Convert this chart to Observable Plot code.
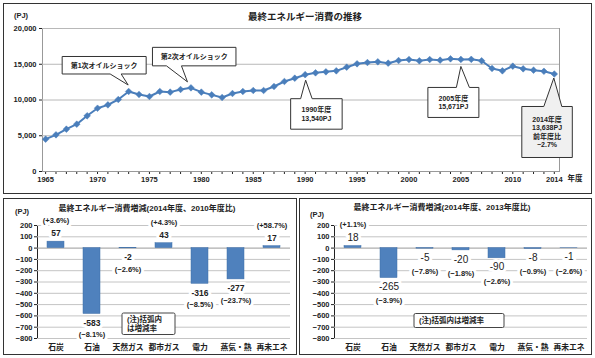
<!DOCTYPE html>
<html><head><meta charset="utf-8">
<script src="https://cdn.jsdelivr.net/npm/d3@7"></script>
<script src="https://cdn.jsdelivr.net/npm/@observablehq/plot@0.6"></script>
<style>
body{margin:0;background:#fff;}
#wrap{position:relative;width:595px;height:358px;overflow:hidden;font-family:"Liberation Sans","Noto Sans CJK JP",sans-serif;color:#222;}
.panel{position:absolute;border:1px solid #333;box-sizing:border-box;}
#wrap svg{position:absolute;}
.lbl{position:absolute;white-space:nowrap;line-height:1;}
</style></head><body><div id="wrap"></div>
<script>
// ---------- data ----------
const years = [1965,1966,1967,1968,1969,1970,1971,1972,1973,1974,1975,1976,1977,1978,1979,1980,1981,1982,1983,1984,1985,1986,1987,1988,1989,1990,1991,1992,1993,1994,1995,1996,1997,1998,1999,2000,2001,2002,2003,2004,2005,2006,2007,2008,2009,2010,2011,2012,2013,2014];
const consumption = [4520,5130,5920,6620,7790,8850,9320,10070,11190,10770,10490,11190,11100,11470,11700,11100,10720,10350,10910,11190,11330,11330,11890,12590,13050,13540,13800,13940,14080,14590,15060,15240,15340,15150,15520,15660,15480,15660,15570,15760,15671,15690,15480,14410,14080,14730,14360,14170,14016,13638];
const yTicksTop = [0,5000,10000,15000,20000];
const xLabelYears = [1965,1970,1975,1980,1985,1990,1995,2000,2005,2010,2014];
const annoYears = [1973,1979,1990,2005,2014];
const annoTexts = [["第1次オイルショック"],["第2次オイルショック"],["1990年度","13,540PJ"],["2005年度","15,671PJ"],["2014年度","13,638PJ","前年度比","−2.7%"]];

const categories = ["石炭","石油","天然ガス","都市ガス","電力","蒸気・熱","再未エネ"];
const change2010 = [57,-583,-2,43,-316,-277,17];
const rate2010 = ["(+3.6%)","(−8.1%)","(−2.6%)","(+4.3%)","(−8.5%)","(−23.7%)","(+58.7%)"];
const change2013 = [18,-265,-5,-20,-90,-8,-1];
const rate2013 = ["(+1.1%)","(−3.9%)","(−7.8%)","(−1.8%)","(−2.6%)","(−0.9%)","(−2.6%)"];
const barTicks = [-800,-700,-600,-500,-400,-300,-200,-100,0,100,200];

const titleTop = "最終エネルギー消費の推移";
const titleLeft = "最終エネルギー消費増減(2014年度、2010年度比)";
const titleRight = "最終エネルギー消費増減(2014年度、2013年度比)";
const noteLeft = ["(注)括弧内","は増減率"];
const noteRight = ["(注)括弧内は増減率"];

// ---------- layout ----------
const FONT = '"Liberation Sans","Noto Sans CJK JP",sans-serif';
const BLUE = "#4a7ebb";
const wrap = document.getElementById("wrap");

function panel(l,t,w,h){const d=document.createElement("div");d.className="panel";Object.assign(d.style,{left:l+"px",top:t+"px",width:w+"px",height:h+"px"});wrap.appendChild(d);}
function label(text,x,y,o={}){
  const d=document.createElement("div");d.className="lbl";d.textContent=text;
  const tx=o.anchor==="start"?"0":o.anchor==="end"?"-100%":"-50%";
  Object.assign(d.style,{left:x+"px",top:y+"px",transform:`translate(${tx},-50%)`,fontSize:(o.size||8)+"px",fontWeight:o.weight||"bold"});
  wrap.appendChild(d);
}
panel(3,3,589,191);
panel(3,198,294,157);
panel(299,198,293,157);

// ---------- top chart ----------
const rows = years.map((y,i)=>({year:y,value:consumption[i]}));
const topPlot = Plot.plot({
  width:595,height:196,marginLeft:42,marginRight:36,marginTop:28,marginBottom:25,
  style:{fontFamily:FONT,fontSize:"7.5px",fontWeight:"bold",color:"#222",background:"none",overflow:"visible"},
  x:{domain:[1964.7,2014.5],ticks:years,tickFormat:d=>xLabelYears.includes(d)?String(d):"",tickSize:3,tickPadding:2,label:null,line:true},
  y:{domain:[0,20000],ticks:yTicksTop,tickFormat:d3.format(","),tickSize:3,tickPadding:3,label:null,line:true},
  marks:[
    Plot.frame({stroke:"#999"}),
    Plot.ruleY(yTicksTop.filter(d=>d>0),{stroke:"#b8b8b8"}),
    Plot.line(rows,{x:"year",y:"value",stroke:BLUE,strokeWidth:2}),
    Plot.dot(rows,{x:"year",y:"value",symbol:"diamond2",r:3,fill:BLUE,stroke:BLUE,strokeWidth:0.5})
  ]
});
topPlot.style.left="0px";topPlot.style.top="0px";
wrap.appendChild(topPlot);

// callouts (pixel offsets relative to the data point)
const calloutLayout = [
  {box:[-66,-34.5,18,-17],tail:[-18,-7],tip:[0,-6],side:"bottom",fill:"#fff"},
  {box:[-38,-40,45.5,-21.5],tail:[-24,-9],tip:[-3,-5.5],side:"bottom",fill:"#fff"},
  {box:[-14,24.5,37.5,55],tail:[-4,7.5],tip:[1,6],side:"top",fill:"#fff"},
  {box:[-32.5,28.5,18.5,58.5],tail:[-4,9],tip:[0.5,7.5],side:"top",fill:"#fff"},
  {box:[-32,33,18.5,84],tail:[-10,8],tip:[0,4.5],side:"top",fill:"#f0f0f0"}
];
{
  const sx=topPlot.scale("x"), sy=topPlot.scale("y");
  const svg=d3.select(topPlot);
  const g=svg.append("g");
  annoYears.forEach((yr,i)=>{
    const L=calloutLayout[i];
    const px=sx.apply(yr), py=sy.apply(consumption[years.indexOf(yr)]);
    const [x0,y0,x1,y1]=[px+L.box[0],py+L.box[1],px+L.box[2],py+L.box[3]];
    const t0=px+L.tail[0], t1=px+L.tail[1], tx=px+L.tip[0], ty=py+L.tip[1];
    let p;
    if(L.side==="bottom") p=`M${x0},${y0}H${x1}V${y1}H${t1}L${tx},${ty}L${t0},${y1}H${x0}Z`;
    else p=`M${x0},${y0}H${t0}L${tx},${ty}L${t1},${y0}H${x1}V${y1}H${x0}Z`;
    g.append("path").attr("d",p).attr("fill",L.fill).attr("stroke","#333").attr("stroke-width",1);
    const lines=annoTexts[i], lh=8.6, cy=(y0+y1)/2, cx=(x0+x1)/2;
    lines.forEach((t,j)=>{
      g.append("text").attr("x",cx).attr("y",cy+(j-(lines.length-1)/2)*lh)
        .attr("text-anchor","middle").attr("dominant-baseline","central")
        .attr("font-size",7).attr("font-weight","bold").attr("fill","#222").text(t);
    });
  });
}
label(titleTop,305,17,{size:9.5});
label("(PJ)",21,16,{size:7.5});
label("年度",575,179,{size:7.5});

// ---------- bar charts ----------
function barChart(values,rates,left,opts){
  const data=categories.map((c,i)=>({cat:c,v:values[i],r:rates[i]}));
  const pos=data.filter(d=>d.v>=0), neg=data.filter(d=>d.v<0);
  const tx={fill:"#222",stroke:"white",strokeWidth:6,paintOrder:"stroke"};
  const p=Plot.plot({
    width:298,height:162,marginLeft:opts.ml,marginRight:298-opts.ml-253,marginTop:29,marginBottom:20,
    style:{fontFamily:FONT,fontSize:"7.5px",fontWeight:"bold",color:"#222",background:"none",overflow:"visible"},
    x:{domain:categories,paddingInner:0.53,paddingOuter:0.265,tickSize:0,tickPadding:6,label:null},
    y:{domain:[-800,200],ticks:barTicks,tickSize:3,tickPadding:2,label:null,line:true},
    marks:[
      Plot.ruleY(barTicks.filter(d=>d!==0),{stroke:"#c4c4c4"}),
      Plot.ruleY([0],{stroke:"#999"}),
      Plot.barY(data,{x:"cat",y:"v",fill:"#4f81bd",stroke:"#3f6fa8",strokeWidth:0.5}),
      Plot.text(pos,{x:"cat",y:"v",text:d=>String(d.v),dy:-8,fontSize:opts.vs,fontWeight:opts.vw,...tx}),
      Plot.text(pos,{x:"cat",y:"v",text:"r",dy:-21,fontSize:7.5,...tx}),
      Plot.text(neg,{x:"cat",y:"v",text:d=>String(d.v),dy:9,fontSize:opts.vs,fontWeight:opts.vw,...tx}),
      Plot.text(neg,{x:"cat",y:"v",text:"r",dy:opts.rdy,fontSize:7.5,...tx})
    ]
  });
  p.style.left=left+"px";p.style.top="196px";
  p.querySelectorAll('g[aria-label="x-axis tick label"]').forEach(g=>g.setAttribute("font-size","7.8"));
  p.querySelectorAll('g[aria-label="x-axis tick label"] text').forEach(t=>t.setAttribute("font-size","7.8"));
  wrap.appendChild(p);
  return p;
}
const leftPlot=barChart(change2010,rate2010,0,{ml:37,vs:8.5,vw:"bold",rdy:21});
const rightPlot=barChart(change2013,rate2013,297,{ml:37,vs:10,vw:"normal",rdy:23});

function note(plot,lines,x0,y0,x1,y1){
  const g=d3.select(plot).append("g");
  g.append("rect").attr("x",x0).attr("y",y0).attr("width",x1-x0).attr("height",y1-y0).attr("rx",1.5)
    .attr("fill","#fff").attr("stroke","#444").attr("stroke-width",1);
  const lh=8.6, cy=(y0+y1)/2;
  lines.forEach((t,j)=>g.append("text").attr("x",x0+5).attr("y",cy+(j-(lines.length-1)/2)*lh)
    .attr("text-anchor","start").attr("dominant-baseline","central").attr("font-size",7.5).attr("font-weight","bold").attr("fill","#222").text(t));
}
note(leftPlot,noteLeft,122,117,175,138.5);
note(rightPlot,noteRight,117,117.5,207,131.5);

label(titleLeft,147,209,{size:8});
label("(PJ)",22,212,{size:7.5});
label(titleRight,442,208,{size:8});
label("(PJ)",317,215,{size:7.5});
</script></body></html>
